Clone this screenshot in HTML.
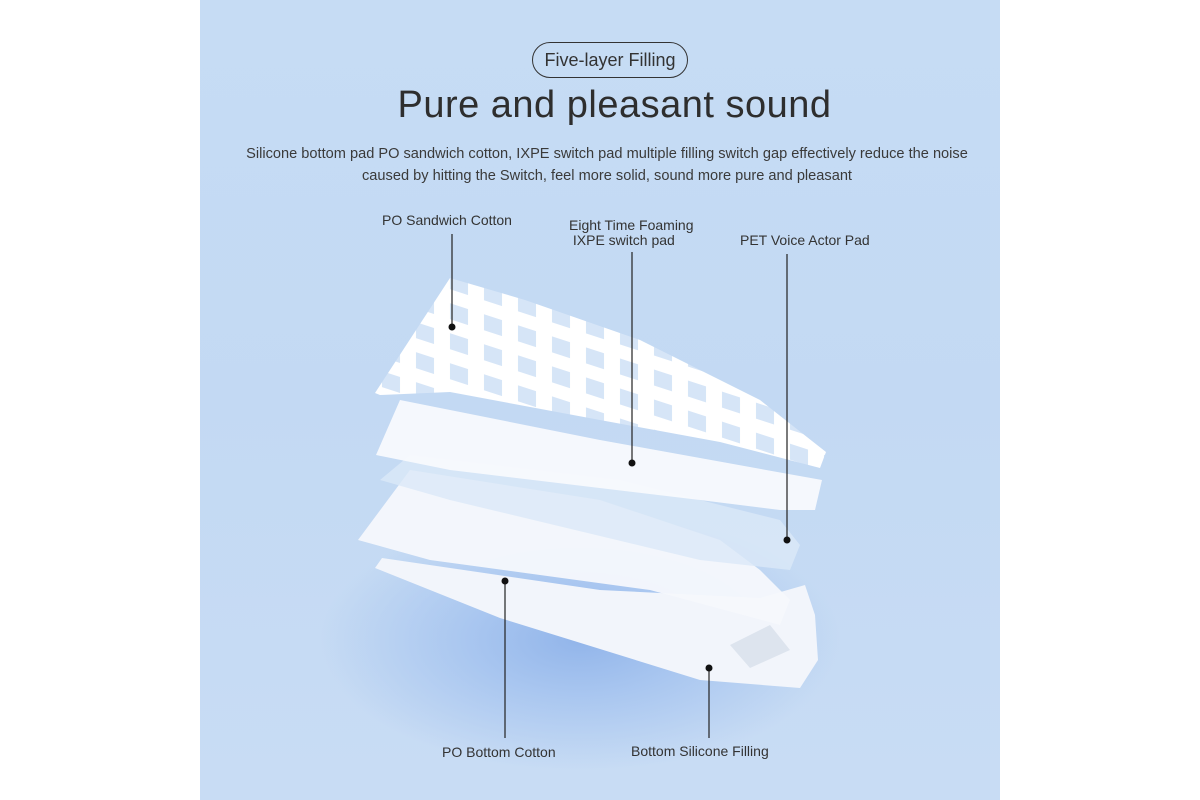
<!DOCTYPE html>
<html><head><meta charset="utf-8"><style>
html,body{margin:0;padding:0;width:1200px;height:800px;background:#fff;overflow:hidden}
.panel{position:absolute;left:200px;top:0;width:800px;height:800px;
background:radial-gradient(ellipse 260px 130px at 380px 640px,#92b5ea 0%,#aac7f0 45%,rgba(200,220,245,0) 100%),linear-gradient(180deg,#c6dcf4 0%,#c3d9f3 50%,#c8dcf4 100%);}
.t{position:absolute;font-family:"Liberation Sans",sans-serif;color:#333;white-space:nowrap}
</style></head><body>
<div class="panel"></div>
<div class="t" style="left:532px;top:42px;width:156px;height:36px;border:1.5px solid #333;border-radius:18px;box-sizing:border-box;font-size:18px;text-align:center;line-height:34px">Five-layer Filling</div>
<div class="t" style="left:0;width:1229px;text-align:center;top:84px;font-size:38px;color:#2e2e2e;letter-spacing:0.5px">Pure and pleasant sound</div>
<div class="t" style="left:0;width:1214px;text-align:center;top:143px;font-size:14.6px;line-height:22px;color:#3a3a3a">Silicone bottom pad PO sandwich cotton, IXPE switch pad multiple filling switch gap effectively reduce the noise<br>caused by hitting the Switch, feel more solid, sound more pure and pleasant</div>
<div class="t" style="left:382px;top:212px;font-size:14px">PO Sandwich Cotton</div>
<div class="t" style="left:569px;top:218px;font-size:14px;line-height:15px">Eight Time Foaming<br>&nbsp;IXPE switch pad</div>
<div class="t" style="left:740px;top:232px;font-size:14px">PET Voice Actor Pad</div>
<div class="t" style="left:442px;top:744px;font-size:14px">PO Bottom Cotton</div>
<div class="t" style="left:631px;top:743px;font-size:14px">Bottom Silicone Filling</div>
<svg width="1200" height="800" style="position:absolute;left:0;top:0">
<defs>
<pattern id="g" width="34" height="30" patternUnits="userSpaceOnUse" patternTransform="skewY(18)">
<rect width="34" height="30" fill="#fff"/><rect x="8" y="7" width="18" height="16" fill="#d6e5f7"/></pattern>
</defs>
<polygon points="375,568 382,558 600,590 760,598 805,585 815,615 818,660 800,688 700,680 500,618" fill="#f2f5fb"/>
<polygon points="730,645 770,625 790,650 750,668" fill="#dde4ee"/>
<polygon points="358,540 410,470 600,500 720,540 760,570 790,600 780,625 650,590 430,560" fill="#f5f8fc" opacity="0.95"/>
<polygon points="380,480 410,455 620,480 780,520 800,545 790,570 700,560 450,500" fill="#dbe8f7" opacity="0.8"/>
<polygon points="376,455 400,400 600,440 822,480 815,510 780,510 700,500 450,470" fill="#f7f9fd" opacity="0.97"/>
<polygon points="375,393 450,278 525,300 640,340 760,400 826,452 820,468 720,442 600,420 450,392 380,395" fill="url(#g)"/>
<g stroke="#222" stroke-width="1.2">
<line x1="452" y1="234" x2="452" y2="327"/><line x1="632" y1="252" x2="632" y2="463"/>
<line x1="787" y1="254" x2="787" y2="540"/><line x1="505" y1="581" x2="505" y2="738"/>
<line x1="709" y1="668" x2="709" y2="738"/></g>
<g fill="#111"><circle cx="452" cy="327" r="3.5"/><circle cx="632" cy="463" r="3.5"/><circle cx="787" cy="540" r="3.5"/><circle cx="505" cy="581" r="3.5"/><circle cx="709" cy="668" r="3.5"/></g>
</svg>
</body></html>
